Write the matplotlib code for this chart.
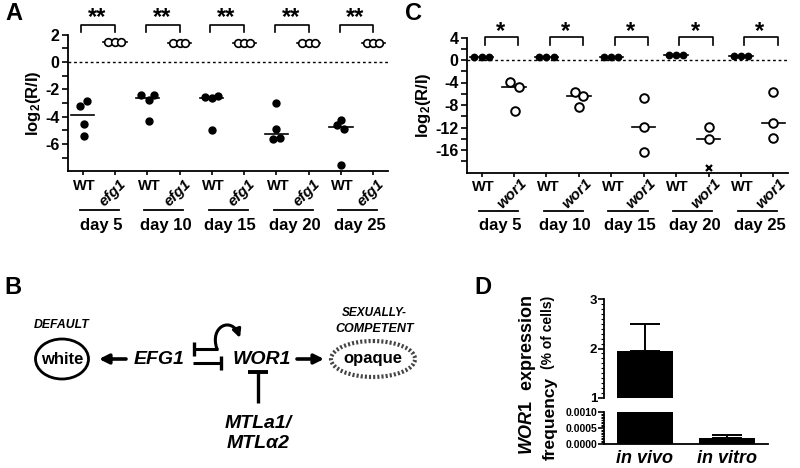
import numpy as np
import matplotlib
matplotlib.use('Agg')
import matplotlib.pyplot as plt
from matplotlib import transforms
from matplotlib.patches import Ellipse, FancyArrowPatch
from matplotlib.path import Path
from matplotlib.ticker import MultipleLocator, FixedLocator

plt.rcParams['font.family'] = ['Liberation Sans', 'DejaVu Sans']
plt.rcParams['font.weight'] = 'bold'
plt.rcParams['axes.unicode_minus'] = False
plt.rcParams['mathtext.fontset'] = 'custom'
plt.rcParams['mathtext.rm'] = 'Liberation Sans:bold'
plt.rcParams['mathtext.it'] = 'Liberation Sans:italic:bold'
plt.rcParams['mathtext.bf'] = 'Liberation Sans:bold'
plt.rcParams['mathtext.default'] = 'regular'

# ---------------- data ----------------
days = ['day 5', 'day 10', 'day 15', 'day 20', 'day 25']

# Panel A: log2(R/I), WT vs efg1
a_wt = [[-3.25, -2.89, -4.54, -5.40],
        [-2.40, -2.40, -2.81, -4.35],
        [-2.57, -2.67, -2.47, -5.01],
        [-3.00, -4.91, -5.64, -5.57],
        [-4.28, -4.59, -4.91, -7.52]]
a_efg1 = [[1.44, 1.44, 1.44],
          [1.36, 1.36, 1.36],
          [1.36, 1.36, 1.36],
          [1.36, 1.36, 1.36],
          [1.36, 1.36, 1.36]]
a_stars = ['**'] * 5

# Panel C: log2(R/I), WT vs wor1
c_wt = [[0.6, 0.6, 0.6],
        [0.6, 0.6, 0.6],
        [0.6, 0.6, 0.6],
        [0.94, 0.94, 0.94],
        [0.76, 0.76, 0.76]]
c_wor1 = [[-3.98, -4.75, -9.0],
          [-5.64, -6.47, -8.3],
          [-6.76, -11.98, -16.4],
          [-11.86, -14.05],
          [-5.64, -11.2, -13.87]]
c_wor1_undetected = [None, None, None, -19.2, None]
c_stars = ['*'] * 5

# Panel D: WOR1 expression frequency (% of cells)
d_labels = ['in vivo', 'in vitro']
d_values = [1.95, 0.00019]
d_err = [0.55, 0.00009]

# ---------------- layout (jitter offsets) ----------------
a_wt_dx = [[-0.08, 0.13, 0.03, 0.03], [-0.2, 0.22, 0.05, 0.05], [-0.2, 0.0, 0.2, 0.0],
           [0.0, 0.0, -0.12, 0.12], [0.0, -0.13, 0.1, 0.0]]
a_mut_dx = [-0.2, 0.0, 0.18]
c_wt_dx = [-0.22, 0.0, 0.22]
c_mut_dx = [[-0.12, 0.15, 0.03], [-0.12, 0.12, 0.0], [0.0, 0.0, 0.0], [0.0, 0.0], [0.0, 0.0, 0.0]]

fig = plt.figure(figsize=(8, 4.68), dpi=100)

# overlay axes in pixel coordinates for the diagram and free text
ov = fig.add_axes([0, 0, 1, 1])
ov.set_xlim(0, 800)
ov.set_ylim(468, 0)
ov.axis('off')
ov.patch.set_alpha(0)


def style_axes(ax):
    ax.patch.set_alpha(0)
    for s in ['top', 'right']:
        ax.spines[s].set_visible(False)
    for s in ['left', 'bottom']:
        ax.spines[s].set_linewidth(1.3)


def scatter_panel(ax, wt, mut, wt_dx, mut_dx, mutname, stars, ylim, major, minor,
                  mut_open, br_x, br_y, star_y, undetected=None):
    style_axes(ax)
    ax.set_xlim(-0.45, 9.45)
    ax.set_ylim(*ylim)
    ax.axhline(0, color='k', lw=1.0, ls=(0, (2, 2)), zorder=1)
    for i in range(5):
        x0, x1 = 2 * i, 2 * i + 1
        w = np.array(wt[i]); m = np.array(mut[i])
        dxw = np.array(wt_dx[i] if np.ndim(wt_dx[0]) else wt_dx)[:len(w)]
        dxm = np.array(mut_dx[i] if np.ndim(mut_dx[0]) else mut_dx)[:len(m)]
        ax.plot(x0 + dxw, w, 'o', color='k', ms=5.0 if not mut_open else 4.6, zorder=3)
        if mut_open:
            ax.plot(x1 + dxm, m, 'o', mfc='white', mec='k', mew=1.4, ms=6.2, zorder=3)
        else:
            ax.plot(x1 + dxm, m, 'o', mfc='white', mec='k', mew=1.2, ms=5.5, zorder=3)
        allm = list(m)
        if undetected is not None and undetected[i] is not None:
            ax.plot(x1, undetected[i], 'x', color='k', ms=5, mew=1.6, zorder=3)
            allm.append(undetected[i])
        ax.plot([x0 - 0.36, x0 + 0.36], [np.median(w)] * 2, color='k', lw=1.2, zorder=2)
        ax.plot([x1 - 0.36, x1 + 0.36], [np.median(allm)] * 2, color='k', lw=1.2, zorder=2)
        # significance bracket
        tr = transforms.blended_transform_factory(ax.transData, ax.transAxes)
        bx0, bx1 = x0 + br_x[0], x0 + br_x[1]
        ax.plot([bx0, bx0, bx1, bx1], [br_y[1], br_y[0], br_y[0], br_y[1]], color='k', lw=1.2,
                transform=tr, clip_on=False)
        ax.text((bx0 + bx1) / 2 - 0.03, star_y, stars[i], transform=tr, ha='center', va='center',
                fontsize=17, fontweight='bold')
        # category labels
        ax.text(x0 + 0.05, -0.105, 'WT', transform=tr, ha='center', va='center', fontsize=10.5)
        ax.text(x1 - 0.07, -0.155, mutname, transform=tr, ha='center', va='center', fontsize=11,
                style='italic', rotation=45, rotation_mode='anchor')
        ax.plot([x0 - 0.09, x1 + 0.12], [-0.282, -0.282], color='k', lw=1.3, transform=tr,
                clip_on=False)
        ax.text(x0 + 0.57, -0.395, days[i], transform=tr, ha='center', va='center', fontsize=12)
    ax.set_xticks(np.arange(10))
    ax.set_xticklabels([])
    ax.tick_params(axis='x', length=3, width=1.2)
    ax.yaxis.set_major_locator(FixedLocator(major))
    ax.yaxis.set_minor_locator(FixedLocator(minor))
    ax.set_yticklabels([str(v) for v in major])
    ax.tick_params(axis='y', which='both', length=4, width=1.2, labelsize=11.5, pad=2)
    for t in ax.get_yticklabels():
        t.set_fontweight('bold')
    ax.set_ylabel('log$_2$(R/I)', fontsize=12, fontweight='bold', labelpad=2)


# Panel A
axA = fig.add_axes([68 / 800, 1 - 171.3 / 468, 320 / 800, 136.6 / 468])
scatter_panel(axA, a_wt, a_efg1, a_wt_dx, a_mut_dx, 'efg1', a_stars, (-8, 2),
              [2, 0, -2, -4, -6], [1, -1, -3, -5, -7], False,
              br_x=(-0.05, 1.0), br_y=(1.07, 1.02), star_y=1.125)

# Panel C
axC = fig.add_axes([467 / 800, 1 - 172.5 / 468, 321 / 800, 135 / 468])
scatter_panel(axC, c_wt, c_wor1, c_wt_dx, c_mut_dx, 'wor1', c_stars, (-20, 4),
              [4, 0, -4, -8, -12, -16], [2, -2, -6, -10, -14, -18], True,
              br_x=(0.1, 1.13), br_y=(1.004, 0.944), star_y=1.045, undetected=c_wor1_undetected)

# Panel D (broken y axis)
d_left, d_w = 604 / 800, 164 / 800
axDu = fig.add_axes([d_left, 1 - 398 / 468, d_w, 99 / 468])
axDl = fig.add_axes([d_left, 1 - 444 / 468, d_w, 32 / 468])
xs = np.arange(len(d_labels))
for ax in (axDu, axDl):
    style_axes(ax)
    ax.bar(xs, d_values, width=0.68, color='k', zorder=2)
    ax.set_xlim(-0.5, 1.5)
axDu.set_ylim(1, 3)
axDl.set_ylim(0, 0.001)
axDu.spines['bottom'].set_visible(False)
axDu.set_xticks([])
axDu.errorbar(xs[:1], d_values[:1], yerr=[[0], d_err[:1]], fmt='none', ecolor='k',
              elinewidth=1.4, capsize=11, capthick=1.4, zorder=3)
axDl.errorbar(xs[1:], d_values[1:], yerr=[[0], d_err[1:]], fmt='none', ecolor='k',
              elinewidth=1.4, capsize=11, capthick=1.4, zorder=3)
axDu.yaxis.set_major_locator(FixedLocator([1, 2, 3]))
axDu.yaxis.set_minor_locator(MultipleLocator(0.1))
axDu.tick_params(axis='y', which='major', length=4, width=1.2, labelsize=9.5, pad=1)
axDu.tick_params(axis='y', which='minor', length=2, width=0.8)
axDl.yaxis.set_major_locator(FixedLocator([0, 0.0005, 0.001]))
axDl.yaxis.set_minor_locator(MultipleLocator(0.00005))
axDl.set_yticklabels(['0.0000', '0.0005', '0.0010'])
axDl.tick_params(axis='y', which='major', length=4, width=1.2, labelsize=7.5, pad=1)
axDl.tick_params(axis='y', which='minor', length=2, width=0.8)
axDl.set_xticks(xs)
axDl.set_xticklabels(d_labels, fontsize=13, style='italic', fontweight='bold')
axDl.tick_params(axis='x', length=0, pad=4)
for ax in (axDu, axDl):
    for t in ax.get_yticklabels():
        t.set_fontweight('bold')

# D y-label
ov.text(528, 375, r'$\mathit{WOR1}$  expression', rotation=90, ha='center', va='center',
        fontsize=13)
ov.text(550, 418, 'frequency', rotation=90, ha='center', va='center', fontsize=12.5)
ov.text(548, 332, '(% of cells)', rotation=90, ha='center', va='center', fontsize=10)

# panel letters
for lab, (x, y) in zip('ABCD', [(14, 13), (13, 287), (413, 13), (483, 287)]):
    ov.text(x, y, lab, ha='center', va='center', fontsize=17, fontweight='bold')

# ---------------- Panel B diagram ----------------
bi = dict(fontweight='bold', style='italic', ha='center', va='center')
ov.text(62, 325, 'DEFAULT', fontsize=8.8, **bi)
ov.add_patch(Ellipse((62, 359), 53, 40, fill=False, lw=2.0, ec='k'))
ov.text(62, 359, 'white', ha='center', va='center', fontsize=12, fontweight='bold')
ov.annotate('', xy=(99, 359), xytext=(126, 359),
            arrowprops=dict(arrowstyle='-|>', lw=2.6, color='k', mutation_scale=14,
                            shrinkA=0, shrinkB=0))
ov.text(159, 359, 'EFG1', fontsize=14, **bi)
# WOR1 -| EFG1 (upper) with self-activation loop
ov.plot([194, 218], [349, 349], color='k', lw=2.2, solid_capstyle='butt')
ov.plot([194, 194], [342, 356], color='k', lw=2.4, solid_capstyle='butt')
loop = Path([(217, 349), (209, 326), (232, 316), (240, 338)],
            [Path.MOVETO, Path.CURVE4, Path.CURVE4, Path.CURVE4])
ov.add_patch(FancyArrowPatch(path=loop, arrowstyle='-|>', lw=2.2, color='k',
                             mutation_scale=12, shrinkA=0, shrinkB=0))
# EFG1 -| WOR1 (lower)
ov.plot([193, 221], [363, 363], color='k', lw=2.2, solid_capstyle='butt')
ov.plot([221, 221], [356, 370], color='k', lw=2.4, solid_capstyle='butt')
ov.text(262, 359, 'WOR1', fontsize=14, **bi)
ov.annotate('', xy=(324, 359), xytext=(297, 359),
            arrowprops=dict(arrowstyle='-|>', lw=2.6, color='k', mutation_scale=14,
                            shrinkA=0, shrinkB=0))
ov.text(374, 313, 'SEXUALLY-', fontsize=8.5, **bi)
ov.text(375, 329, 'COMPETENT', fontsize=9, **bi)
ov.add_patch(Ellipse((373, 359), 84, 36, fill=False, lw=3.0, ec='#444444', ls=(0, (0.5, 0.5))))
ov.text(373, 359, 'opaque', ha='center', va='center', fontsize=12, fontweight='bold')
# MTLa1/MTLalpha2 -| WOR1
ov.plot([258, 258], [372, 403], color='k', lw=2.4, solid_capstyle='butt')
ov.plot([248, 268], [372, 372], color='k', lw=2.8, solid_capstyle='butt')
ov.text(258, 423, 'MTLa1/', fontsize=14, **bi)
ov.text(258, 443, 'MTL\u03b12', fontsize=14, **bi)

fig.savefig('out.png', dpi=100)
